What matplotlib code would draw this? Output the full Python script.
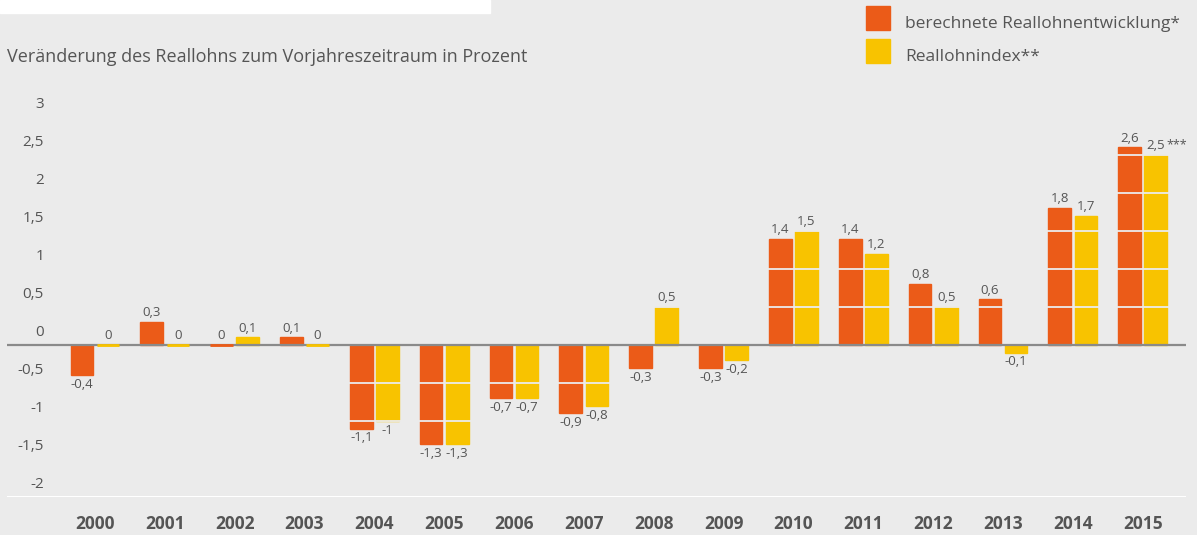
import matplotlib.pyplot as plt
import numpy as np
from matplotlib.patches import Rectangle

plt.rcParams['font.family'] = ['Open Sans', 'DejaVu Sans']

# Reallohn data (percent change vs previous year)
years = ['2000', '2001', '2002', '2003', '2004', '2005', '2006', '2007',
         '2008', '2009', '2010', '2011', '2012', '2013', '2014', '2015']
berechnet = [-0.4, 0.3, 0, 0.1, -1.1, -1.3, -0.7, -0.9, -0.3, -0.3, 1.4, 1.4, 0.8, 0.6, 1.8, 2.6]
index = [0, 0, 0.1, 0, -1, -1.3, -0.7, -0.8, 0.5, -0.2, 1.5, 1.2, 0.5, -0.1, 1.7, 2.5]
yticks = [-2, -1.5, -1, -0.5, 0, 0.5, 1, 1.5, 2, 2.5, 3]
names = ['berechnete Reallohnentwicklung*', 'Reallohnindex**']


def de(v):
    return f"{v:g}".replace('.', ',')


orange = '#eb5b18'
yellow = '#f8c300'
bg = '#ebebeb'
txt = '#555555'
W, H = 1197, 535

fig = plt.figure(figsize=(11.97, 5.35), dpi=100, facecolor=bg)
ax = fig.add_axes([0.0058, 0.0710, 0.985, 0.7103])
ax.set_facecolor(bg)

x = np.arange(len(years))
w = 0.325
off = 0.187
bars = []
for vals, col, sign in [(berechnet, orange, -1), (index, yellow, 1)]:
    b = ax.bar(x + sign * off, vals, w, color=col, edgecolor=col, linewidth=1, zorder=2)
    bars.append(b)
    # zero values show as a short coloured strip on the zero line
    zx = x[np.array(vals) == 0] + sign * off
    ax.hlines(np.zeros(len(zx)), zx - w / 2, zx + w / 2, color=col, linewidth=2, zorder=4.5)

ax.bar_label(bars[0], labels=[de(v) for v in berechnet], padding=2, fontsize=9.5,
             color=txt, zorder=5)
t2 = ax.bar_label(bars[1], labels=[de(v) for v in index], padding=2, fontsize=9.5,
                  color=txt, zorder=5)
# footnote marker on the last Reallohnindex value
ax.annotate('***', xy=(1, 1), xycoords=t2[-1], xytext=(1, 1), textcoords='offset points',
            ha='left', va='top', fontsize=9, color=txt)

# gridlines in background colour drawn over the bars
for v in yticks:
    if v not in (0, -2):
        ax.axhline(v, color=bg, linewidth=1.3, zorder=3)
ax.axhline(0, color='#8a8a8a', linewidth=1.6, zorder=4)
ax.axhline(-2, color='white', linewidth=2.2, zorder=4)

# y tick labels sit inside the plot, a bit above their lines
for v in yticks:
    ax.annotate(de(v), xy=(0.0314, v), xycoords=ax.get_yaxis_transform(),
                xytext=(0, 13), textcoords='offset pixels',
                ha='right', va='center', fontsize=11, color=txt)

ax.set_xlim(-1.26, 15.62)
ax.set_ylim(-2, 3)
ax.set_yticks([])
ax.set_xticks(x)
ax.set_xticklabels(years, fontsize=12.5, fontweight='bold', color=txt)
ax.tick_params(axis='x', length=0, pad=13)
for s in ax.spines.values():
    s.set_visible(False)

fig.text(7 / W, 1 - 62 / H, 'Veränderung des Reallohns zum Vorjahreszeitraum in Prozent',
         fontsize=13, color=txt, va='baseline')
fig.patches.append(Rectangle((0, 1 - 13 / H), 490 / W, 13 / H,
                             transform=fig.transFigure, color='white', zorder=0))

# legend
for i, (name, col) in enumerate(zip(names, [orange, yellow])):
    top = 6 + 33 * i
    fig.patches.append(Rectangle((866 / W, 1 - (top + 24) / H), 24 / W, 24 / H,
                                 transform=fig.transFigure, color=col))
    fig.text(905 / W, 1 - (top + 22) / H, name, fontsize=12.5, color=txt, va='baseline')

fig.savefig('out.png', dpi=100, facecolor=bg)
